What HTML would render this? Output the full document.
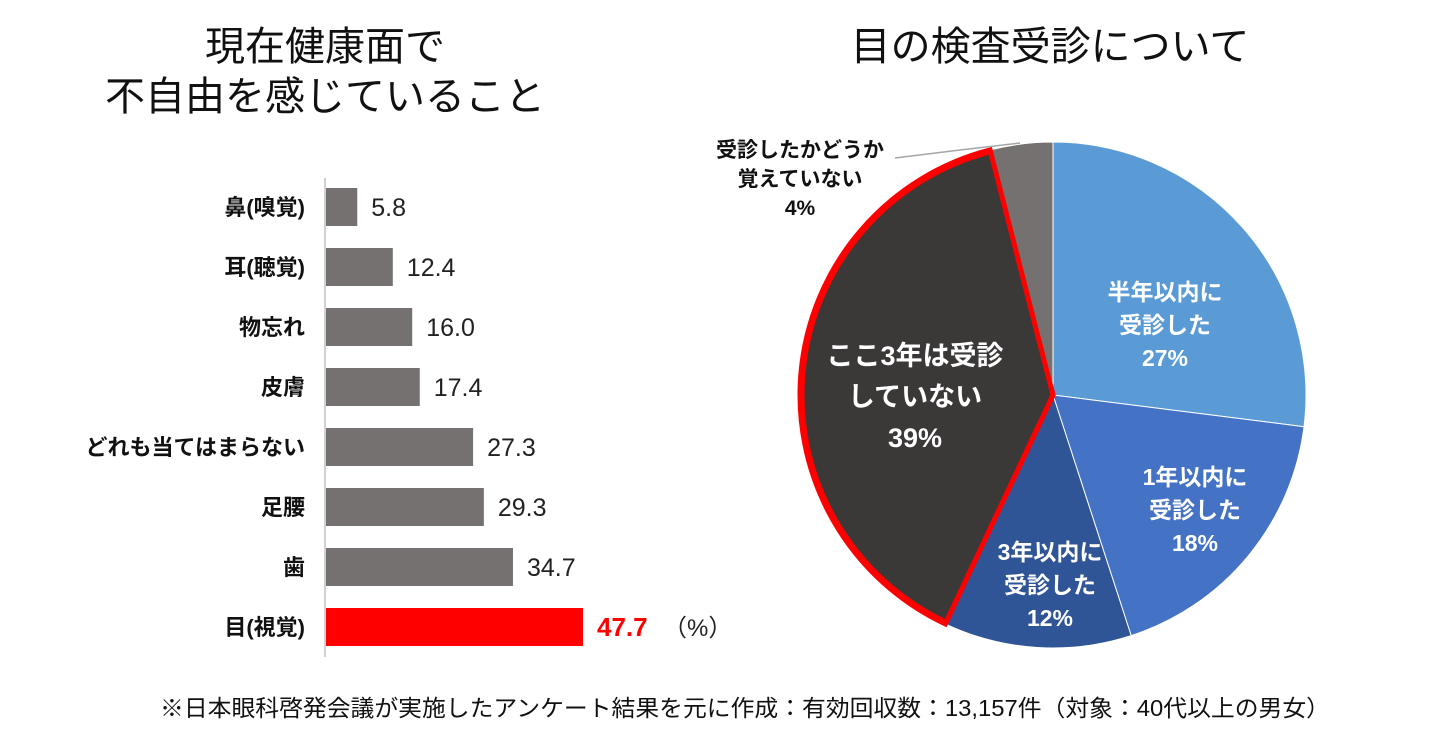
<!DOCTYPE html>
<html><head><meta charset="utf-8"><style>
html,body{margin:0;padding:0;background:#fff;}
svg{display:block;font-family:"Liberation Sans","Noto Sans CJK JP",sans-serif;}
</style></head><body>
<svg id="c" width="1436" height="737" viewBox="0 0 1436 737">
<text x="325" y="60" text-anchor="middle" font-size="40" fill="#111">現在健康面で</text>
<text x="325" y="110" text-anchor="middle" font-size="40" fill="#111">不自由を感じていること</text>
<text x="1050" y="60" text-anchor="middle" font-size="40" fill="#111">目の検査受診について</text>
<line x1="325" y1="178" x2="325" y2="657" stroke="#d0d0d0" stroke-width="2"/>
<g id="bars"></g>
<g id="pie"></g>
<text x="745" y="716" text-anchor="middle" font-size="23" fill="#111" textLength="1170" lengthAdjust="spacingAndGlyphs">※日本眼科啓発会議が実施したアンケート結果を元に作成：有効回収数：13,157件（対象：40代以上の男女）</text>
</svg>
<script>
const categories = ["鼻(嗅覚)","耳(聴覚)","物忘れ","皮膚","どれも当てはまらない","足腰","歯","目(視覚)"];
const values = [5.8, 12.4, 16.0, 17.4, 27.3, 29.3, 34.7, 47.7];
const valueLabels = ["5.8","12.4","16.0","17.4","27.3","29.3","34.7","47.7"];
const pieLabels = [["半年以内に","受診した","27%"],["1年以内に","受診した","18%"],["3年以内に","受診した","12%"],["ここ3年は受診","していない","39%"],["受診したかどうか","覚えていない","4%"]];
const pieValues = [27, 18, 12, 39, 4];
const NS="http://www.w3.org/2000/svg";
function mk(t,a,p){const e=document.createElementNS(NS,t);for(const k in a)e.setAttribute(k,a[k]);p.appendChild(e);return e;}
const x0=326, pxPer=257/47.7;
const xS=v=>v*pxPer;
const yS=i=>207+i*60;
const bars=document.getElementById('bars');
categories.forEach((c,i)=>{
  const last=i===categories.length-1;
  const r=mk('rect',{x:x0,y:yS(i)-19,width:xS(values[i]),height:38,fill:last?'#ff0000':'#767171'},bars);
  
  
  const l=mk('text',{x:305,y:yS(i)+8,'text-anchor':'end','font-size':22,'font-weight':'bold',fill:'#111'},bars);
  l.textContent=c;
  
  
  const v=mk('text',{x:x0+xS(values[i])+14,y:yS(i)+9,'font-size':last?26:25,'font-weight':last?'bold':'normal',fill:last?'#ff0000':'#222'},bars);
  v.textContent=valueLabels[i];
  
  
  if(last){
    const u=mk('text',{x:x0+xS(values[i])+80,y:yS(i)+9,'font-size':24,fill:'#222'},bars);
    u.textContent='（%）';
    
    
  }
});
const pie=document.getElementById('pie');
const cx=1053, cy=395, R=253;
const colors=['#5b9bd5','#4472c4','#2f5597','#3b3838','#767171'];
const total=pieValues.reduce((a,b)=>a+b,0);
const pt=(a,r)=>[cx+r*Math.sin(a),cy-r*Math.cos(a)];
let acc=0;
const labelPos=[[1165,300],[1195,485],[1050,560],[915,365],[800,157]];
pieValues.forEach((v,i)=>{
  const a0=acc/total*2*Math.PI; acc+=v; const a1=acc/total*2*Math.PI;
  const p0=pt(a0,R),p1=pt(a1,R);
  const d=`M${cx},${cy} L${p0[0]},${p0[1]} A${R},${R} 0 ${a1-a0>Math.PI?1:0} 1 ${p1[0]},${p1[1]} Z`;
  const s=mk('path',{d:d,fill:colors[i],stroke:i===3?'#ff0000':'#fff',
    'stroke-width':i===3?5:1,'stroke-linejoin':'miter'},pie);
  
  
});
{
  let a=0; for(let i=0;i<3;i++)a+=pieValues[i];
  const a0=a/total*2*Math.PI,a1=(a+pieValues[3])/total*2*Math.PI;
  const p0=pt(a0,R-2),p1=pt(a1,R-2);
  const h=mk('path',{d:`M${cx},${cy} L${p0[0]},${p0[1]} A${R-2},${R-2} 0 0 1 ${p1[0]},${p1[1]} Z`,fill:colors[3],stroke:'#ff0000','stroke-width':5},pie);
  
  
}
const ld=mk('polyline',{points:'895,158 960,150 1020,143',fill:'none',stroke:'#a6a6a6','stroke-width':1.5},pie);


pieLabels.forEach((lines,i)=>{
  const [lx,ly]=labelPos[i];
  const big=i===3, small=i===4;
  const fs=big?27:(small?21:23), lh=big?41:(small?29:33);
  const t=mk('text',{x:lx,y:ly,'text-anchor':'middle','font-size':fs,'font-weight':'bold',fill:small?'#111':'#fff'},pie);
  
  
  lines.forEach((ln,j)=>{const s=mk('tspan',{x:lx,dy:j?lh:0},t);s.textContent=ln;});
});
</script>
</body></html>
